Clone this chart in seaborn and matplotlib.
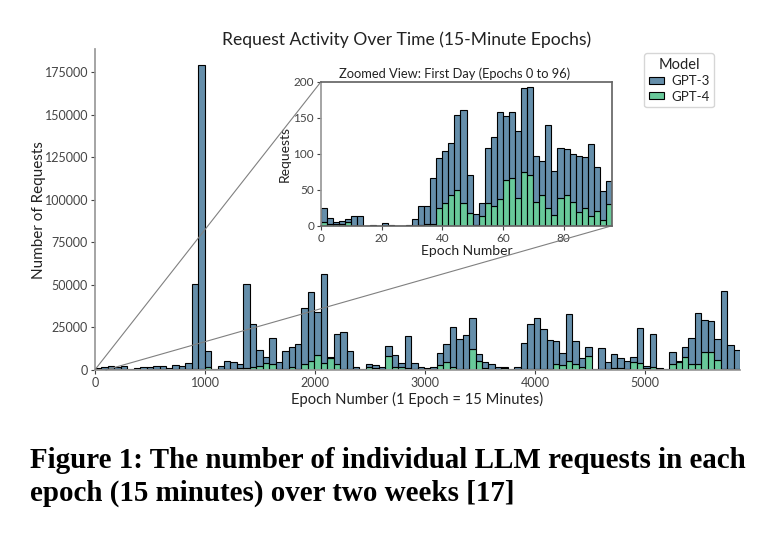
import numpy as np
import pandas as pd
import seaborn as sns
import matplotlib.pyplot as plt
from mpl_toolkits.axes_grid1.inset_locator import mark_inset

# two weeks of 15-minute epochs, grouped into 100 bins
last_epoch = 5864
n_bins = 100

models = ['GPT-3', 'GPT-4']

# requests per bin, in thousands
gpt3_k = [1.1, 1.6, 1.8, 1.2, 2.0, 0.4, 1.0, 1.3, 1.2, 1.9,
          1.8, 1.2, 2.1, 1.7, 3.7, 49.8, 178.6, 9.7, 0.6, 2.1,
          4.7, 3.7, 2.6, 49.5, 24.8, 9.2, 3.5, 15.3, 4.3, 10.9,
          11.7, 14.4, 32.9, 40.5, 25.3, 51.9, 0.6, 17.4, 21.9, 10.9,
          1.3, 0.4, 1.5, 1.7, 1.2, 6.1, 6.6, 2.3, 19.2, 3.2,
          1.2, 0.7, 1.2, 6.9, 10.5, 23.4, 17.8, 20.1, 18.2, 4.1,
          3.7, 3.1, 1.4, 0.6, 0.4, 1.3, 15.4, 26.6, 29.7, 23.4,
          16.9, 13.3, 6.9, 27.4, 13.3, 5.2, 5.5, 0.6, 12.2, 4.2,
          8.0, 6.0, 4.7, 2.5, 20.8, 1.5, 19.1, 0.9, 0.6, 6.7,
          0.8, 5.5, 15.5, 29.6, 18.4, 18.2, 12.1, 45.6, 14.0, 11.2]
gpt4_k = [0.3, 0.4, 0.5, 0.3, 0.3, 0.1, 0.2, 0.2, 0.3, 0.4,
          0.3, 0.2, 0.8, 0.4, 0.4, 0.5, 0.8, 1.5, 0.2, 0.4,
          0.6, 0.8, 0.9, 1.0, 2.0, 2.5, 4.3, 3.5, 0.6, 0.5,
          2.0, 0.6, 3.7, 5.1, 8.6, 4.3, 6.8, 3.7, 0.6, 0.5,
          0.3, 0.2, 2.0, 1.0, 0.4, 8.2, 2.0, 1.6, 1.0, 0.7,
          0.4, 0.3, 0.4, 3.1, 4.5, 1.8, 0.6, 0.6, 12.5, 5.5,
          1.0, 0.6, 0.4, 1.2, 0.2, 0.3, 0.6, 0.6, 0.6, 0.5,
          0.5, 3.7, 3.1, 5.3, 3.7, 2.0, 8.0, 0.2, 0.5, 0.5,
          1.2, 1.0, 0.8, 4.9, 3.9, 1.0, 2.0, 0.3, 0.2, 3.7,
          4.7, 7.8, 3.3, 3.7, 10.8, 10.4, 5.9, 0.6, 0.5, 0.5]

# first day: epochs 0-96 in bins of 2 epochs
day_end = 96
day_bins = 48
gpt3_day = [20, 8, 2, 4, 5, 13, 13, 0, 1, 0,
            4, 1, 0, 0, 1, 9, 26, 25, 63, 69,
            72, 73, 105, 129, 52, 15, 17, 76, 95, 121,
            88, 92, 93, 117, 121, 64, 47, 115, 61, 69,
            65, 67, 78, 72, 99, 61, 40, 32]
gpt4_day = [5, 3, 3, 2, 5, 0, 0, 0, 0, 0,
            0, 0, 0, 0, 0, 0, 1, 2, 3, 25,
            32, 42, 49, 32, 18, 1, 14, 32, 28, 37,
            64, 66, 39, 74, 71, 33, 43, 25, 15, 39,
            42, 33, 19, 24, 14, 20, 8, 30]

# long-format tables, one row per bin and model
width = last_epoch / n_bins
mids = np.arange(n_bins) * width + width / 2
df = pd.DataFrame({'epoch': np.concatenate([mids, mids]),
                   'requests': np.array(gpt3_k + gpt4_k) * 1000,
                   'Model': np.repeat(models, n_bins)})

day_width = day_end / day_bins
day_mids = np.arange(day_bins) * day_width + day_width / 2
df_day = pd.DataFrame({'epoch': np.concatenate([day_mids, day_mids]),
                       'requests': gpt3_day + gpt4_day,
                       'Model': np.repeat(models, day_bins)})

sns.set_theme(style='ticks')
plt.rcParams['font.family'] = ['Lato', 'DejaVu Sans']
plt.rcParams['text.color'] = '#222222'
plt.rcParams['axes.labelcolor'] = '#222222'

fig = plt.figure(figsize=(7.7, 5.33), dpi=100)
ax = fig.add_axes([0.1234, 0.3058, 0.8377, 0.6017])

bar_kws = dict(multiple='stack', palette='viridis', alpha=0.75,
               edgecolor='black', linewidth=0.8)

sns.histplot(data=df, x='epoch', weights='requests', hue='Model',
             hue_order=models, bins=n_bins, binrange=(0, last_epoch),
             ax=ax, **bar_kws)
ax.set_xlim(0, last_epoch)
ax.set_title('Request Activity Over Time (15-Minute Epochs)', fontsize=12.6, pad=3, x=0.483)
ax.set_xlabel('Epoch Number (1 Epoch = 15 Minutes)', fontsize=10.6, labelpad=2)
ax.set_ylabel('Number of Requests', fontsize=11, labelpad=-1)
ax.tick_params(labelsize=9, colors='#444444', length=3, width=0.8, pad=2)
sns.despine(ax=ax)
for s in ['left', 'bottom']:
    ax.spines[s].set_color('0.6')

sns.move_legend(ax, 'upper left', bbox_to_anchor=(0.851, 0.9875),
                fontsize=9.5, title_fontsize=10.5, handlelength=1.2,
                handleheight=0.45, handletextpad=0.5, borderpad=0.35,
                labelspacing=0.25, borderaxespad=0)

# zoomed view of the first day
axins = fig.add_axes([0.4169, 0.5765, 0.378, 0.2702])
sns.histplot(data=df_day, x='epoch', weights='requests', hue='Model',
             hue_order=models, bins=day_bins, binrange=(0, day_end),
             legend=False, ax=axins, **bar_kws)
axins.set_xlim(0, day_end)
axins.set_ylim(0, 200)
axins.set_title('Zoomed View: First Day (Epochs 0 to 96)', fontsize=9.3, pad=3, x=0.46)
axins.set_xlabel('Epoch Number', fontsize=10, labelpad=1)
axins.set_ylabel('Requests', fontsize=10, labelpad=2)
axins.set_xticks([0, 20, 40, 60, 80])
axins.tick_params(labelsize=8.5, colors='#444444', length=3, width=0.8, pad=2)
for s in axins.spines.values():
    s.set_color('0.4')
axins.spines['left'].set_color('0.6')

mark_inset(ax, axins, loc1=2, loc2=4, fc='none', ec='0.5', lw=0.8)

fig.text(0.039, 1 - 468 / 533, 'Figure 1: The number of individual LLM requests in each',
         family='Liberation Serif', weight='bold', fontsize=20.85, color='black', va='baseline')
fig.text(0.039, 1 - 501 / 533, 'epoch (15 minutes) over two weeks [17]',
         family='Liberation Serif', weight='bold', fontsize=20.85, color='black', va='baseline')

fig.savefig('out.png', dpi=100)
